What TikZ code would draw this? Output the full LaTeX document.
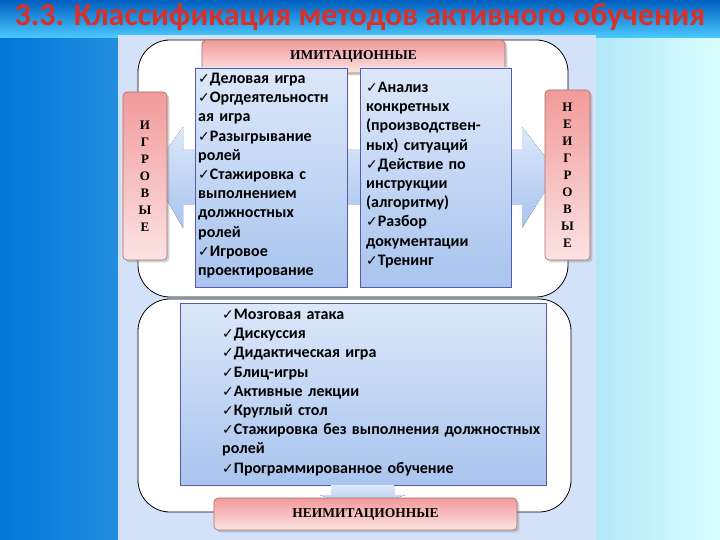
\documentclass[tikz,border=0pt]{standalone}
\usepackage{fontspec}
\setmainfont{Carlito}
\newfontfamily\djf{DejaVu Sans}
\newfontfamily\serf{Liberation Serif}
\usetikzlibrary{shadows}
\newcommand{\ck}{{\djf\fontsize{14}{14}\selectfont ✓}}
\definecolor{ttl}{HTML}{D9302A}
\definecolor{pinkA}{HTML}{F29A9A}
\definecolor{pinkB}{HTML}{FCE3E3}
\definecolor{boxA}{HTML}{DCE8FA}
\definecolor{boxB}{HTML}{A9C4EE}
\definecolor{panel}{HTML}{D3E2F8}
\tikzset{
 pinkbox/.style={draw=pinkA!70!black, line width=0.6pt, top color=pinkA, bottom color=pinkB, rounded corners=4pt, drop shadow={opacity=0.35}},
 listbox/.style={draw=gray!70!blue, line width=0.8pt, top color=boxA, bottom color=boxB},
 frame/.style={draw=black, line width=0.8pt, fill=white, rounded corners=32pt},
 listtxt/.style={anchor=north west, align=left, inner sep=0pt, font=\bfseries\fontsize{16}{19.2}\selectfont},
 head/.style={font=\serf\bfseries\fontsize{13.5}{13.5}\selectfont},
 vert/.style={font=\serf\bfseries\fontsize{13}{17}\selectfont, align=center}
}
\begin{document}
\begin{tikzpicture}[x=1pt,y=-1pt]
\useasboundingbox (0,0) rectangle (720,540);
\shade[left color=blue!45!cyan!85!black, right color=cyan!15!white] (0,0) rectangle (720,540);
\shade[top color=blue!50!cyan!75!black, bottom color=blue!30!cyan!70!white] (0,0) rectangle (720,38);
\node[font=\bfseries\fontsize{32}{32}\selectfont, text=ttl] (title) at (360,17) {3.3. Классификация методов активного обучения};
\fill[panel] (118,35) rectangle (596,540);
\draw[frame] (138,40) rectangle (568,297);
\fill[top color=boxA, bottom color=boxB] (151,172) -- (183,127) -- (183,150) -- (522,150) -- (522,127) -- (557,172) -- (522,228) -- (522,205) -- (183,205) -- (183,228) -- cycle;
\node[pinkbox, minimum width=303pt, minimum height=33pt, head] (imit) at (353.5,56.5) {ИМИТАЦИОННЫЕ};
\node[listbox, minimum width=152pt, minimum height=219pt] (lcol) at (271.5,177.5) {};
\node[listbox, minimum width=151pt, minimum height=219pt] (rcol) at (435.5,177.5) {};
\node[pinkbox, minimum width=44pt, minimum height=168pt, vert] (igr) at (145,176) {И\\Г\\Р\\О\\В\\Ы\\Е};
\node[pinkbox, minimum width=45pt, minimum height=170pt, vert] (neigr) at (567.5,175) {Н\\Е\\И\\Г\\Р\\О\\В\\Ы\\Е};
\node[listtxt, text width=150pt] (ltxt) at (198,73) {\ck Деловая игра\\\ck Оргдеятельностн\\ая игра\\\ck Разыгрывание\\ролей\\\ck Стажировка с\\выполнением\\должностных\\ролей\\\ck Игровое\\проектирование};
\node[listtxt, text width=150pt] (rtxt) at (366,82) {\ck Анализ\\конкретных\\(производствен-\\ных) ситуаций\\\ck Действие по\\инструкции\\(алгоритму)\\\ck Разбор\\документации\\\ck Тренинг};
\draw[frame] (138,299) rectangle (571,512);
\node[listbox, minimum width=366pt, minimum height=182pt] (bcol) at (363,394) {};
\fill[top color=boxA, bottom color=boxB] (331,485) -- (394,485) -- (394,495) -- (405,495) -- (362.5,510) -- (320,495) -- (331,495) -- cycle;
\node[listtxt, text width=330pt] (btxt) at (222,309) {\ck Мозговая атака\\\ck Дискуссия\\\ck Дидактическая игра\\\ck Блиц-игры\\\ck Активные лекции\\\ck Круглый стол\\\ck Стажировка без выполнения должностных\\ролей\\\ck Программированное обучение};
\node[pinkbox, minimum width=303pt, minimum height=32pt, head] (neimit) at (365.5,514) {НЕИМИТАЦИОННЫЕ};
\end{tikzpicture}
\end{document}
